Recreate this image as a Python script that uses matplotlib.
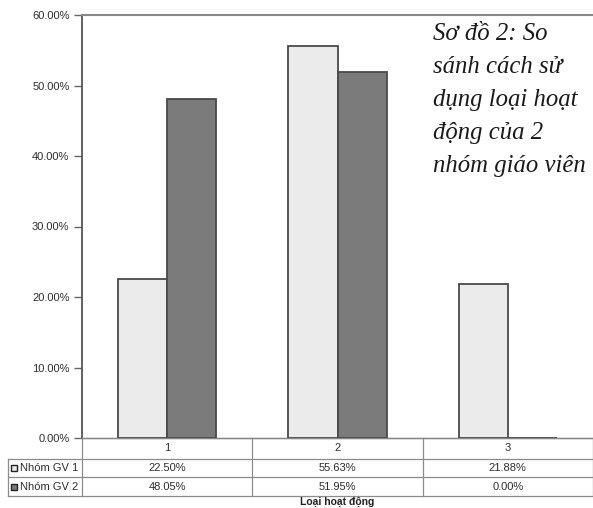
import matplotlib
matplotlib.use("Agg")
import matplotlib.pyplot as plt
from matplotlib.ticker import FuncFormatter

# Data
categories = ["1", "2", "3"]
series_names = ["Nhóm GV 1", "Nhóm GV 2"]
group1 = [22.50, 55.63, 21.88]
group2 = [48.05, 51.95, 0.00]
yticks = [0, 10, 20, 30, 40, 50, 60]

light = "#ebebeb"
dark = "#7b7b7b"
edge = "#4a4a4a"
txt = "#2e2e2e"
grid = "#8c8c8c"

W, H = 593, 508
fig = plt.figure(figsize=(W / 100, H / 100), dpi=100)
fig.patch.set_facecolor("white")

# plot area in pixels
left, right, top, bottom = 82, 593, 15, 438
ax = fig.add_axes([left / W, (H - bottom) / H, (right - left) / W, (bottom - top) / H])

x = [i + 0.5 for i in range(len(categories))]
bw = 0.288
ax.bar([v - bw / 2 for v in x], group1, width=bw, color=light, edgecolor=edge, linewidth=1.3, zorder=3)
ax.bar([v + bw / 2 for v in x], group2, width=bw, color=dark, edgecolor=edge, linewidth=1.3, zorder=3)

ax.set_xlim(0, 3)
ax.set_ylim(0, 60)
ax.set_yticks(yticks)
ax.yaxis.set_major_formatter(FuncFormatter(lambda v, p: f"{v:.2f}%"))
ax.tick_params(axis="y", length=6, width=1, color="#666666", labelsize=8,
               labelcolor=txt, pad=3)
ax.set_xticks([])
ax.spines["left"].set_color("#555555")
ax.spines["left"].set_linewidth(1.3)
ax.spines["top"].set_color("#888888")
ax.spines["top"].set_linewidth(1.5)
ax.spines["bottom"].set_color("#888888")
ax.spines["bottom"].set_linewidth(1.0)
ax.spines["right"].set_visible(False)
for lbl in ax.get_yticklabels():
    lbl.set_fontfamily("Liberation Sans")

# Data table below the plot
trans = ax.get_xaxis_transform()
ph = bottom - top
def ya(py):
    return (bottom - py) / ph

rows_y = [438, 458.5, 477, 496]
lab_left = (8 - left) / 170.3
lkw = dict(color=grid, linewidth=0.9, transform=trans, clip_on=False)
# horizontals
ax.plot([0, 3], [ya(rows_y[0])] * 2, **lkw)
for py in rows_y[1:]:
    ax.plot([lab_left, 3], [ya(py)] * 2, **lkw)
# verticals
for xv in range(4):
    ax.plot([xv, xv], [ya(rows_y[0]), ya(rows_y[3])], **lkw)
ax.plot([lab_left, lab_left], [ya(rows_y[1]), ya(rows_y[3])], **lkw)

tkw = dict(transform=trans, fontsize=8, color=txt, family="Liberation Sans",
           ha="center", va="center", clip_on=False)
for xc, c in zip(x, categories):
    ax.text(xc, ya((rows_y[0] + rows_y[1]) / 2), c, **tkw)
for r, (name, vals, col) in enumerate(zip(series_names, [group1, group2], [light, dark])):
    yc = ya((rows_y[r + 1] + rows_y[r + 2]) / 2)
    for xc, v in zip(x, vals):
        ax.text(xc, yc, f"{v:.2f}%", **tkw)
    ax.plot([(14 - left) / 170.3], [yc], marker="s", markersize=5, mfc=col, mec="#222222",
            mew=1.0, transform=trans, clip_on=False)
    ax.text((20 - left) / 170.3, yc, name, transform=trans, fontsize=8, color=txt,
            family="Liberation Sans", ha="left", va="center", clip_on=False)

ax.text(1.5, ya(502), "Loại hoạt động", transform=trans, fontsize=7.5, color="#222222",
        family="Liberation Sans", fontweight="bold", ha="center", va="center", clip_on=False)

# Caption
fig.text(433 / W, 1 - 23 / H,
         "Sơ đồ 2: So\nsánh cách sử\ndụng loại hoạt\nđộng của 2\nnhóm giáo viên",
         family="Liberation Serif", style="italic", fontsize=17.8, color="#1a1a1a",
         ha="left", va="top", linespacing=1.65)

fig.savefig("out.png", dpi=100, facecolor="white")
